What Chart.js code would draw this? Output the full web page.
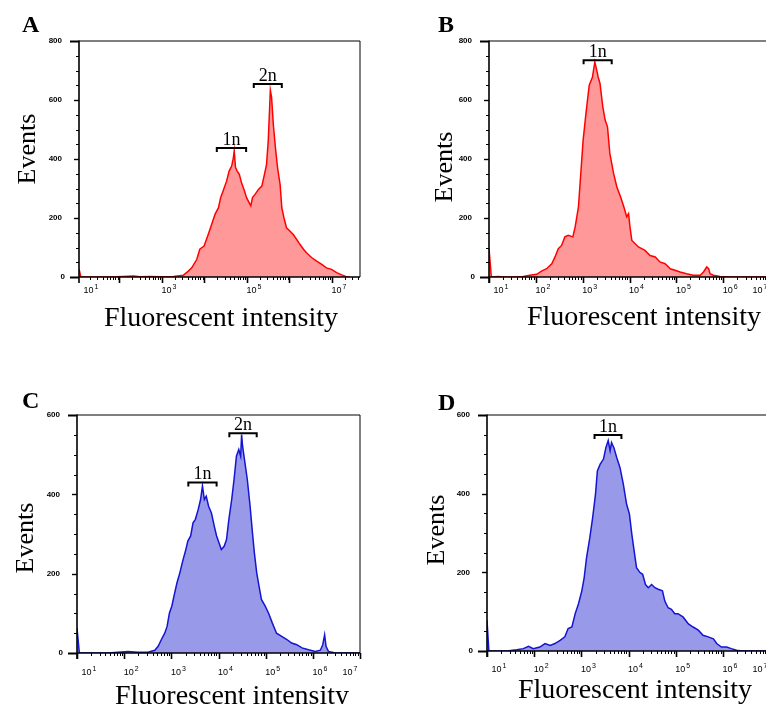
<!DOCTYPE html>
<html>
<head>
<meta charset="utf-8">
<script src="https://cdn.jsdelivr.net/npm/chart.js@4.4.0/dist/chart.umd.min.js"></script>
<style>
  html, body { margin: 0; padding: 0; background: #fff; }
  body { width: 766px; height: 704px; overflow: hidden; position: relative; }
  canvas { position: absolute; }
</style>
</head>
<body>
<canvas id="chartA" width="383" height="352" style="left:0;top:0"></canvas>
<canvas id="chartB" width="420" height="352" style="left:383px;top:0"></canvas>
<canvas id="chartC" width="383" height="352" style="left:0;top:352px"></canvas>
<canvas id="chartD" width="420" height="352" style="left:383px;top:352px"></canvas>
<script>
  // histogram bins: log10(fluorescent intensity) and event counts
  const A_LOG = [1.05, 1.09, 1.54, 1.93, 2.09, 2.33, 2.48, 2.72, 2.95, 3.27, 3.50, 3.62, 3.70, 3.82, 3.89, 3.99,
    4.09, 4.17, 4.25, 4.33, 4.38, 4.44, 4.52, 4.58, 4.64, 4.68, 4.70, 4.73, 4.77, 4.82, 4.87, 4.94, 4.99,
    5.05, 5.09, 5.13, 5.19, 5.27, 5.35, 5.41, 5.46, 5.50, 5.53, 5.55, 5.58, 5.62, 5.67, 5.72, 5.78, 5.82,
    5.87, 5.93, 6.01, 6.09, 6.17, 6.25, 6.33, 6.40, 6.52, 6.64, 6.76, 6.87, 6.99, 7.11, 7.23, 7.35, 7.42];
  const A_EVENTS = [26, 0, 0, 1, 2, 3, 1, 2, 1, 2, 6, 20, 31, 60, 94, 105,
    145, 179, 213, 235, 269, 292, 325, 359, 376, 404, 427, 371, 359, 348, 320, 292, 269,
    252, 241, 269, 280, 297, 308, 347, 381, 460, 562, 633, 608, 517, 438, 370, 313, 234,
    201, 167, 156, 144, 127, 110, 94, 82, 66, 54, 43, 31, 26, 15, 7, 0, 0];

  const B_LOG = [1.0, 1.05, 1.20, 1.30, 1.59, 1.73, 1.87, 2.02, 2.12, 2.23, 2.34, 2.41, 2.48, 2.55, 2.62, 2.69,
    2.79, 2.84, 2.91, 2.96, 3.01, 3.07, 3.14, 3.21, 3.26, 3.30, 3.33, 3.37, 3.43, 3.48, 3.53, 3.58, 3.66,
    3.73, 3.81, 3.88, 3.94, 3.98, 4.01, 4.05, 4.12, 4.19, 4.26, 4.33, 4.44, 4.55, 4.65, 4.76, 4.87, 4.97,
    5.08, 5.22, 5.36, 5.51, 5.58, 5.65, 5.69, 5.72, 5.79, 5.93, 6.15, 6.43, 6.93];
  const B_EVENTS = [96, 0, 2, 0, 0, 2, 6, 9, 20, 28, 45, 68, 96, 107, 136, 141,
    136, 170, 238, 351, 464, 554, 650, 678, 729, 701, 678, 656, 577, 532, 509, 419, 351,
    305, 271, 237, 204, 215, 170, 124, 113, 102, 96, 90, 73, 68, 51, 45, 28, 23,
    17, 11, 6, 6, 17, 34, 28, 11, 6, 2, 0, 0, 0];

  const C_LOG = [1.0, 1.05, 1.23, 1.44, 1.65, 1.87, 2.08, 2.29, 2.50, 2.65, 2.72, 2.79, 2.86, 2.91, 2.96, 3.01,
    3.07, 3.12, 3.18, 3.25, 3.30, 3.35, 3.41, 3.46, 3.51, 3.57, 3.62, 3.66, 3.70, 3.74, 3.79, 3.85, 3.91,
    3.96, 4.01, 4.06, 4.12, 4.17, 4.22, 4.28, 4.33, 4.38, 4.43, 4.47, 4.49, 4.51, 4.56, 4.61, 4.67, 4.72,
    4.76, 4.81, 4.86, 4.91, 4.99, 5.06, 5.14, 5.23, 5.34, 5.45, 5.55, 5.66, 5.77, 5.91, 6.05, 6.16, 6.21,
    6.25, 6.28, 6.33, 6.48, 6.69, 7.0];
  const C_EVENTS = [63, 0, 0, 0, 0, 2, 4, 2, 2, 7, 17, 34, 50, 67, 101, 118,
    151, 177, 202, 236, 257, 282, 295, 328, 337, 362, 387, 421, 387, 395, 370, 353, 320,
    295, 278, 261, 269, 286, 337, 387, 438, 496, 513, 496, 551, 522, 480, 438, 370, 303,
    253, 202, 168, 135, 118, 101, 76, 50, 42, 34, 25, 21, 13, 8, 4, 7, 21,
    46, 17, 4, 0, 0, 0];

  const D_LOG = [1.0, 1.04, 1.21, 1.42, 1.63, 1.77, 1.88, 1.98, 2.12, 2.23, 2.34, 2.44, 2.55, 2.65, 2.72, 2.80,
    2.87, 2.94, 3.01, 3.06, 3.11, 3.18, 3.24, 3.30, 3.34, 3.40, 3.47, 3.52, 3.57, 3.61, 3.64, 3.69, 3.75,
    3.82, 3.89, 3.96, 4.02, 4.07, 4.12, 4.17, 4.24, 4.30, 4.36, 4.42, 4.49, 4.56, 4.63, 4.72, 4.77, 4.84,
    4.91, 4.98, 5.05, 5.16, 5.27, 5.37, 5.48, 5.58, 5.69, 5.80, 5.87, 5.97, 6.08, 6.18, 6.29, 6.40, 6.93];
  const D_EVENTS = [78, 0, 0, 0, 3, 6, 12, 6, 10, 19, 14, 19, 27, 36, 57, 61,
    95, 120, 153, 186, 237, 288, 339, 398, 458, 475, 488, 517, 535, 509, 530, 517, 492,
    466, 424, 373, 348, 297, 254, 212, 200, 195, 169, 161, 169, 161, 157, 153, 127, 110,
    106, 95, 95, 86, 69, 61, 53, 40, 36, 31, 19, 10, 10, 6, 2, 0, 0];

  // ploidy gates: label, log10 range, height in events
  const GATES_A = [{ label: "1n", from: 4.29, to: 4.98, at: 437 }, { label: "2n", from: 5.16, to: 5.82, at: 654 }];
  const GATES_B = [{ label: "1n", from: 3.02, to: 3.62, at: 735 }];
  const GATES_C = [{ label: "1n", from: 3.36, to: 3.96, at: 430 }, { label: "2n", from: 4.23, to: 4.81, at: 554 }];
  const GATES_D = [{ label: "1n", from: 3.28, to: 3.85, at: 549 }];

  const Y_TICKS_800 = [0, 200, 400, 600, 800];
  const Y_TICKS_600 = [0, 200, 400, 600];
  const X_LABELS_ODD = [1, 3, 5, 7];
  const X_LABELS_ALL = [1, 2, 3, 4, 5, 6, 7];

  const RED = { line: "#ff0000", fill: "rgba(255, 0, 0, 0.4)" };
  const BLUE = { line: "#1414d2", fill: "rgba(0, 0, 202, 0.4)" };
  const SERIF = "'Liberation Serif', 'Times New Roman', serif";
  const SANS = "'Liberation Sans', Arial, sans-serif";

  const flowAxes = {
    id: "flowAxes",
    afterDraw(chart, args, o) {
      const { ctx, chartArea: a } = chart;
      const x = chart.scales.x;
      const y = chart.scales.y;
      ctx.save();
      ctx.strokeStyle = "#000";
      ctx.fillStyle = "#000";

      // frame
      ctx.lineWidth = 1;
      ctx.beginPath();
      ctx.moveTo(a.left, a.top);
      ctx.lineTo(a.right, a.top);
      ctx.lineTo(a.right, a.bottom);
      ctx.stroke();
      ctx.lineWidth = 1.6;
      ctx.beginPath();
      ctx.moveTo(a.left, a.top - 0.5);
      ctx.lineTo(a.left, a.bottom + 6);
      ctx.moveTo(a.left, a.bottom);
      ctx.lineTo(a.right, a.bottom);
      ctx.stroke();

      // y ticks
      const yMax = y.max;
      for (let v = 0; v <= yMax; v += 50) {
        const py = Math.round(y.getPixelForValue(v)) + 0.5;
        const major = o.yTicks.includes(v);
        let len = major ? 5 : 3;
        ctx.lineWidth = major ? 1.4 : 1;
        if (v === 0 || v === yMax) { len = 9; ctx.lineWidth = 2; }
        ctx.beginPath();
        ctx.moveTo(a.left, py);
        ctx.lineTo(a.left - len, py);
        ctx.stroke();
      }
      ctx.font = "bold 8px " + SANS;
      ctx.textAlign = "right";
      ctx.textBaseline = "middle";
      o.yTicks.forEach((v) => {
        ctx.fillText(String(v), a.left - (v === 0 ? 14 : 17), y.getPixelForValue(v));
      });

      // x ticks (log decades with minor ticks)
      const lo = Math.floor(Math.log10(x.min));
      const hi = Math.ceil(Math.log10(x.max));
      for (let k = lo; k <= hi; k++) {
        for (let m = 1; m <= 9; m++) {
          const v = m * Math.pow(10, k);
          if (v < x.min * 0.999 || v > x.max * 1.001) continue;
          const px = Math.round(x.getPixelForValue(v)) + 0.5;
          const major = m === 1;
          ctx.lineWidth = major ? 1.6 : 1;
          ctx.beginPath();
          ctx.moveTo(px, a.bottom);
          ctx.lineTo(px, a.bottom + (major ? 6 : 3));
          ctx.stroke();
        }
      }
      ctx.textAlign = "left";
      ctx.textBaseline = "alphabetic";
      o.xLabels.forEach((e) => {
        const px = x.getPixelForValue(Math.pow(10, e));
        ctx.font = "9px " + SANS;
        const w10 = ctx.measureText("10").width;
        ctx.font = "7px " + SANS;
        const wsup = ctx.measureText(String(e)).width;
        const w = w10 + wsup + 1;
        const cx = Math.min(Math.max(px + 7, a.left + 12), a.right - 10);
        const base = a.bottom + o.labelGap;
        ctx.font = "9px " + SANS;
        ctx.fillText("10", cx - w / 2, base);
        ctx.font = "7px " + SANS;
        ctx.fillText(String(e), cx - w / 2 + w10 + 1, base - 4);
      });

      // gates
      ctx.lineWidth = 2;
      ctx.textAlign = "center";
      ctx.font = "18px " + SERIF;
      o.gates.forEach((g) => {
        const x1 = x.getPixelForValue(Math.pow(10, g.from));
        const x2 = x.getPixelForValue(Math.pow(10, g.to));
        const gy = y.getPixelForValue(g.at);
        ctx.beginPath();
        ctx.moveTo(x1, gy + 4);
        ctx.lineTo(x1, gy);
        ctx.lineTo(x2, gy);
        ctx.lineTo(x2, gy + 4);
        ctx.stroke();
        ctx.fillText(g.label, (x1 + x2) / 2, gy - 3);
      });

      // titles and panel letter
      ctx.font = "28px " + SERIF;
      ctx.fillText("Fluorescent intensity", o.xTitle[0], o.xTitle[1]);
      ctx.save();
      ctx.translate(o.yTitle[0], o.yTitle[1]);
      ctx.rotate(-Math.PI / 2);
      ctx.font = "26px " + SERIF;
      ctx.textBaseline = "middle";
      ctx.fillText("Events", 0, 0);
      ctx.restore();
      ctx.font = "bold 24px " + SERIF;
      ctx.textAlign = "left";
      ctx.fillText(o.letter, o.letterPos[0], o.letterPos[1]);
      ctx.restore();
    }
  };

  function renderPanel(id, logs, events, color, cfg) {
    const canvas = document.getElementById(id);
    if (!canvas) return;
    const points = logs.map((e, i) => ({ x: Math.pow(10, e), y: events[i] }));
    new Chart(canvas, {
      type: "line",
      data: {
        datasets: [
          {
            data: points,
            borderColor: color.line,
            backgroundColor: color.fill,
            borderWidth: 1.5,
            fill: "origin",
            pointRadius: 0,
            tension: 0
          }
        ]
      },
      options: {
        responsive: false,
        animation: false,
        devicePixelRatio: 1,
        layout: { padding: cfg.padding },
        plugins: {
          legend: { display: false },
          tooltip: { enabled: false },
          flowAxes: cfg
        },
        scales: {
          x: { type: "logarithmic", display: false, min: Math.pow(10, cfg.xRange[0]), max: Math.pow(10, cfg.xRange[1]) },
          y: { type: "linear", display: false, min: 0, max: cfg.yMax }
        }
      },
      plugins: [flowAxes]
    });
  }

  renderPanel("chartA", A_LOG, A_EVENTS, RED, {
    padding: { left: 79, top: 41, right: 23, bottom: 75 },
    xRange: [1.047, 7.66], yMax: 800, yTicks: Y_TICKS_800, xLabels: X_LABELS_ODD,
    labelGap: 16, gates: GATES_A, letter: "A", letterPos: [22, 32],
    xTitle: [221, 326], yTitle: [28, 149]
  });
  renderPanel("chartB", B_LOG, B_EVENTS, RED, {
    padding: { left: 106, top: 41, right: 33, bottom: 75 },
    xRange: [1.0, 7.0], yMax: 800, yTicks: Y_TICKS_800, xLabels: X_LABELS_ALL,
    labelGap: 16, gates: GATES_B, letter: "B", letterPos: [55, 32],
    xTitle: [261, 325], yTitle: [62, 167]
  });
  renderPanel("chartC", C_LOG, C_EVENTS, BLUE, {
    padding: { left: 77, top: 63, right: 23, bottom: 51 },
    xRange: [1.0, 7.0], yMax: 600, yTicks: Y_TICKS_600, xLabels: X_LABELS_ALL,
    labelGap: 22, gates: GATES_C, letter: "C", letterPos: [22, 56],
    xTitle: [232, 352], yTitle: [26, 186]
  });
  renderPanel("chartD", D_LOG, D_EVENTS, BLUE, {
    padding: { left: 104, top: 63, right: 33, bottom: 53 },
    xRange: [1.0, 7.0], yMax: 600, yTicks: Y_TICKS_600, xLabels: X_LABELS_ALL,
    labelGap: 21, gates: GATES_D, letter: "D", letterPos: [55, 58],
    xTitle: [252, 346], yTitle: [54, 178]
  });
</script>
</body>
</html>
